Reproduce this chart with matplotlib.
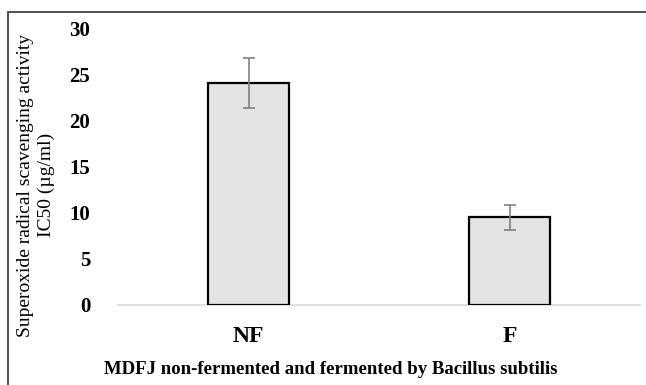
import matplotlib
matplotlib.use("Agg")
import matplotlib.pyplot as plt
from matplotlib.patches import Rectangle

# Data
categories = ["NF", "F"]
ic50 = [24.0, 9.5]
errors = [2.7, 1.35]
yticks = [0, 5, 10, 15, 20, 25, 30]

plt.rcParams['font.family'] = ['Liberation Serif', 'DejaVu Serif']

W, H = 646, 385
fig = plt.figure(figsize=(W / 100, H / 100), dpi=100)
ax = fig.add_axes([118 / W, 1 - 305 / H, 522 / W, 277 / H])

x = range(len(categories))
ax.bar(x, ic50, width=0.31, color="#e3e3e3", edgecolor="black", linewidth=1.6,
       yerr=errors, ecolor="#808080",
       error_kw=dict(elinewidth=1.2, capsize=4.5, capthick=1.2), zorder=3)

ax.set_xlim(-0.5, 1.5)
ax.set_ylim(0, 30)
ax.set_xticks(list(x))
ax.set_xticklabels(categories, fontsize=17, fontweight="bold")
ax.set_yticks(yticks)
ax.set_yticklabels([str(t) for t in yticks], fontsize=15, fontweight="bold")
ax.tick_params(axis="y", length=0, pad=20)
ax.tick_params(axis="x", length=0, pad=15)

for s in ["top", "right", "left"]:
    ax.spines[s].set_visible(False)
ax.spines["bottom"].set_color("#d9d9d9")
ax.spines["bottom"].set_linewidth(1.2)

fig.text(36 / W, 1 - 185 / H, "Superoxide radical scavenging activity\nIC50 (µg/ml)",
         fontsize=14, rotation=90, ha="center", va="center", multialignment="center",
         linespacing=1.25)
fig.text(331 / W, 1 - 370 / H,
         "MDFJ non-fermented and fermented by Bacillus subtilis",
         fontsize=13.5, fontweight="bold", ha="center", va="center")

# outer frame (only left and top edges fall inside the picture)
fig.patches.append(Rectangle((8 / W, -0.05), 1.0, 1 - 12 / H + 0.05,
                             transform=fig.transFigure, fill=False,
                             edgecolor="#505050", linewidth=1.4))

fig.savefig("out.png", dpi=100)
